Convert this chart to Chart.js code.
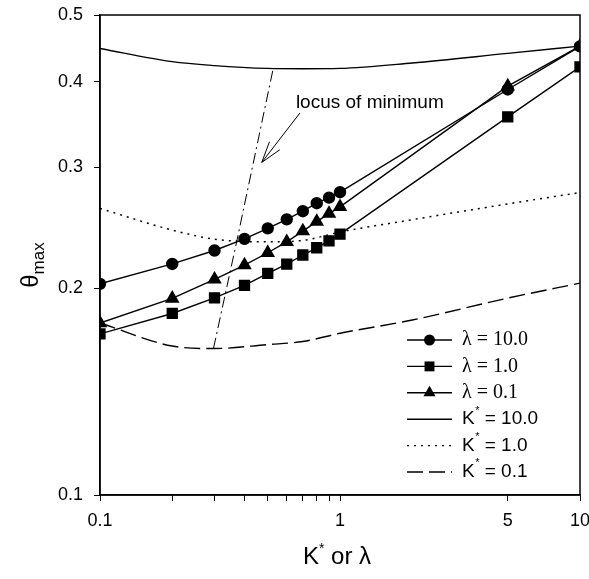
<!DOCTYPE html>
<html><head><meta charset="utf-8">
<script src="https://cdn.jsdelivr.net/npm/chart.js@4/dist/chart.umd.min.js"></script>
<style>html,body{margin:0;padding:0;background:#fff;}</style>
</head><body>
<canvas id="c" width="589" height="579"></canvas>
<script>
// ---- data ----
const lamX = [0.1, 0.2, 0.3, 0.4, 0.5, 0.6, 0.7, 0.8, 0.9, 1, 5, 10];
const lambda10 = [0.203, 0.217, 0.227, 0.236, 0.2445, 0.252, 0.259, 0.266, 0.271, 0.276, 0.3895, 0.450];
const lambda1  = [0.1716, 0.1838, 0.1937, 0.2020, 0.2102, 0.2169, 0.2236, 0.2291, 0.2345, 0.2398, 0.3553, 0.4202];
const lambda01 = [0.178, 0.1933, 0.2061, 0.2162, 0.2253, 0.2337, 0.2423, 0.2501, 0.2569, 0.2628, 0.3938, 0.4504];

const kX = [0.1, 0.2, 0.3, 0.5, 0.7, 1, 2, 5, 10];
const kStar10 = [0.447, 0.4276, 0.422, 0.418, 0.4175, 0.418, 0.4257, 0.4396, 0.4504];
const kStar1  = [0.2614, 0.2431, 0.2358, 0.2337, 0.2348, 0.2415, 0.2517, 0.2654, 0.2757];
const kStar01 = [0.178, 0.1648, 0.1634, 0.1656, 0.1673, 0.172, 0.1798, 0.1935, 0.2035];

const locusX = [0.297, 0.371, 0.527];
const locusY = [0.1634, 0.2337, 0.418];

const xTicks = [0.1, 0.2, 0.3, 0.4, 0.5, 0.6, 0.7, 0.8, 0.9, 1, 5, 10];
const xTickLabels = {0.1: '0.1', 1: '1', 5: '5', 10: '10'};
const yTicks = [0.1, 0.2, 0.3, 0.4, 0.5];
const yTickLabels = ['0.1', '0.2', '0.3', '0.4', '0.5'];

const legendLabels = ['λ = 10.0', 'λ = 1.0', 'λ = 0.1', 'K* = 10.0', 'K* = 1.0', 'K* = 0.1'];
const annotationText = 'locus of minimum';
const arrowTail = [0.681, 0.360];
const arrowTip = [0.472, 0.305];
const annotationAt = [0.655, 0.366];

const pts = (xs, ys) => xs.map((x, i) => ({x, y: ys[i]}));

const SANS = '"Liberation Sans", Arial, sans-serif';
const SERIF = '"Liberation Serif", "Times New Roman", Times, serif';

const lineBase = {showLine: true, borderColor: '#000', backgroundColor: '#000', borderWidth: 1.4, pointBorderColor: '#000', pointBackgroundColor: '#000'};

const datasets = [
  Object.assign({}, lineBase, {label: legendLabels[0], data: pts(lamX, lambda10), pointStyle: 'circle', pointRadius: 5.5, tension: 0}),
  Object.assign({}, lineBase, {label: legendLabels[1], data: pts(lamX, lambda1), pointStyle: 'rect', pointRadius: 7, tension: 0}),
  Object.assign({}, lineBase, {label: legendLabels[2], data: pts(lamX, lambda01), pointStyle: 'triangle', pointRadius: 7, tension: 0}),
  Object.assign({}, lineBase, {label: legendLabels[3], data: pts(kX, kStar10), pointRadius: 0, cubicInterpolationMode: 'monotone'}),
  Object.assign({}, lineBase, {label: legendLabels[4], data: pts(kX, kStar1), pointRadius: 0, borderDash: [2, 5], borderWidth: 1.5, cubicInterpolationMode: 'monotone'}),
  Object.assign({}, lineBase, {label: legendLabels[5], data: pts(kX, kStar01), pointRadius: 0, borderDash: [16, 6], cubicInterpolationMode: 'monotone'}),
  Object.assign({}, lineBase, {label: 'locus', data: pts(locusX, locusY), pointRadius: 0, borderWidth: 1, borderDash: [11, 4, 2, 4], tension: 0})
];

function drawMarker(ctx, style, x, y, r) {
  ctx.beginPath();
  if (style === 'circle') { ctx.arc(x, y, r, 0, Math.PI * 2); }
  else if (style === 'rect') { const s = r * Math.SQRT1_2; ctx.rect(x - s, y - s, 2 * s, 2 * s); }
  else if (style === 'triangle') {
    for (let k = 0; k < 3; k++) {
      const a = -Math.PI / 2 + k * 2 * Math.PI / 3;
      const px = x + Math.cos(a) * r, py = y + Math.sin(a) * r;
      if (k === 0) ctx.moveTo(px, py); else ctx.lineTo(px, py);
    }
    ctx.closePath();
  }
  ctx.fill();
}

function drawKStar(ctx, text, x, y, size) {
  const parts = text.split('*');
  ctx.font = size + 'px ' + SANS;
  ctx.fillText(parts[0], x, y);
  let w = ctx.measureText(parts[0]).width;
  ctx.font = Math.round(size * 0.6) + 'px ' + SANS;
  ctx.fillText('*', x + w + 0.5, y - size * 0.45);
  w += ctx.measureText('*').width + 0.5;
  ctx.font = size + 'px ' + SANS;
  ctx.fillText(parts[1], x + w, y);
}

const decor = {
  id: 'decor',
  afterDraw(chart) {
    const ctx = chart.ctx, a = chart.chartArea;
    const xs = chart.scales.x, ys = chart.scales.y;
    ctx.save();
    ctx.strokeStyle = '#000'; ctx.lineWidth = 1.5;
    ctx.strokeRect(a.left, a.top, a.right - a.left, a.bottom - a.top);

    // legend
    const styles = ['circle', 'rect', 'triangle', null, null, null];
    const dashes = [[], [], [], [], [2, 5], [16, 6]];
    const x0 = a.right - 173, x1 = a.right - 128, tx = a.right - 118;
    ctx.fillStyle = '#000'; ctx.textBaseline = 'middle'; ctx.textAlign = 'left';
    legendLabels.forEach((lab, i) => {
      const y = a.bottom - 155 + i * 26.4;
      ctx.setLineDash(dashes[i]); ctx.lineWidth = 1.4; ctx.strokeStyle = '#000';
      ctx.beginPath(); ctx.moveTo(x0, y); ctx.lineTo(x1, y); ctx.stroke();
      ctx.setLineDash([]);
      if (styles[i]) drawMarker(ctx, styles[i], (x0 + x1) / 2, y, styles[i] === 'circle' ? 5.5 : 7);
      if (lab.indexOf('*') >= 0) drawKStar(ctx, lab, tx, y, 19);
      else { ctx.font = '20px ' + SERIF; ctx.fillText(lab, tx, y); }
    });

    // annotation arrow
    const tX = xs.getPixelForValue(arrowTail[0]), tY = ys.getPixelForValue(arrowTail[1]);
    const hX = xs.getPixelForValue(arrowTip[0]), hY = ys.getPixelForValue(arrowTip[1]);
    ctx.lineWidth = 1; ctx.setLineDash([]);
    ctx.beginPath(); ctx.moveTo(tX, tY); ctx.lineTo(hX, hY); ctx.stroke();
    const ang = Math.atan2(hY - tY, hX - tX);
    const L = 22, spread = 0.3;
    ctx.beginPath();
    ctx.moveTo(hX - L * Math.cos(ang - spread), hY - L * Math.sin(ang - spread));
    ctx.lineTo(hX, hY);
    ctx.lineTo(hX - L * Math.cos(ang + spread), hY - L * Math.sin(ang + spread));
    ctx.stroke();
    ctx.font = '19px ' + SANS; ctx.textBaseline = 'alphabetic';
    ctx.fillText(annotationText, xs.getPixelForValue(annotationAt[0]), ys.getPixelForValue(annotationAt[1]));

    // x axis title: K* or λ
    const cx = (a.left + a.right) / 2 - 3;
    ctx.font = '24px ' + SANS;
    const wK = ctx.measureText('K').width;
    ctx.font = '14px ' + SANS;
    const wS = ctx.measureText('*').width;
    ctx.font = '24px ' + SANS;
    const wR = ctx.measureText(' or λ').width;
    const sx = cx - (wK + wS + wR) / 2;
    const by = 564;
    ctx.fillText('K', sx, by);
    ctx.font = '14px ' + SANS; ctx.fillText('*', sx + wK, by - 11);
    ctx.font = '24px ' + SANS; ctx.fillText(' or λ', sx + wK + wS, by);

    // y axis title: θmax
    ctx.translate(38, (a.top + a.bottom) / 2 + 10);
    ctx.rotate(-Math.PI / 2);
    ctx.font = '24px ' + SANS;
    const wT = ctx.measureText('θ').width;
    ctx.font = '17px ' + SANS;
    const wM = ctx.measureText('max').width;
    const start = -(wT + wM) / 2;
    ctx.font = '24px ' + SANS; ctx.fillText('θ', start, 0);
    ctx.font = '17px ' + SANS; ctx.fillText('max', start + wT, 6);
    ctx.restore();
  }
};

new Chart(document.getElementById('c').getContext('2d'), {
  type: 'scatter',
  data: {datasets},
  options: {
    responsive: false, animation: false, devicePixelRatio: 1,
    layout: {padding: {left: 0, right: 9, top: 15, bottom: 0}},
    plugins: {legend: {display: false}, tooltip: {enabled: false}},
    scales: {
      x: {
        type: 'logarithmic', min: 0.1, max: 10,
        afterBuildTicks: s => { s.ticks = xTicks.map(v => ({value: v})); },
        afterFit: s => { s.height = 84; s.paddingLeft = 0; s.paddingRight = 0; s.paddingTop = 0; s.paddingBottom = 0; },
        ticks: {autoSkip: false, maxRotation: 0, padding: 9, color: '#000', font: {family: SANS, size: 18},
          callback: v => (xTickLabels[v] !== undefined ? xTickLabels[v] : '')},
        grid: {drawOnChartArea: false, drawTicks: true, tickLength: 6, color: '#000', lineWidth: 1},
        border: {display: true, color: '#000', width: 1.5}
      },
      y: {
        type: 'logarithmic', min: 0.1, max: 0.5,
        afterBuildTicks: s => { s.ticks = yTicks.map(v => ({value: v})); },
        afterFit: s => { s.width = 100; s.paddingLeft = 0; s.paddingRight = 0; s.paddingTop = 0; s.paddingBottom = 0; },
        ticks: {autoSkip: false, padding: 11, color: '#000', font: {family: SANS, size: 18},
          callback: v => yTickLabels[yTicks.indexOf(v)]},
        grid: {drawOnChartArea: false, drawTicks: true, tickLength: 6, color: '#000', lineWidth: 1},
        border: {display: true, color: '#000', width: 1.5}
      }
    }
  },
  plugins: [decor]
});
</script>
</body></html>
